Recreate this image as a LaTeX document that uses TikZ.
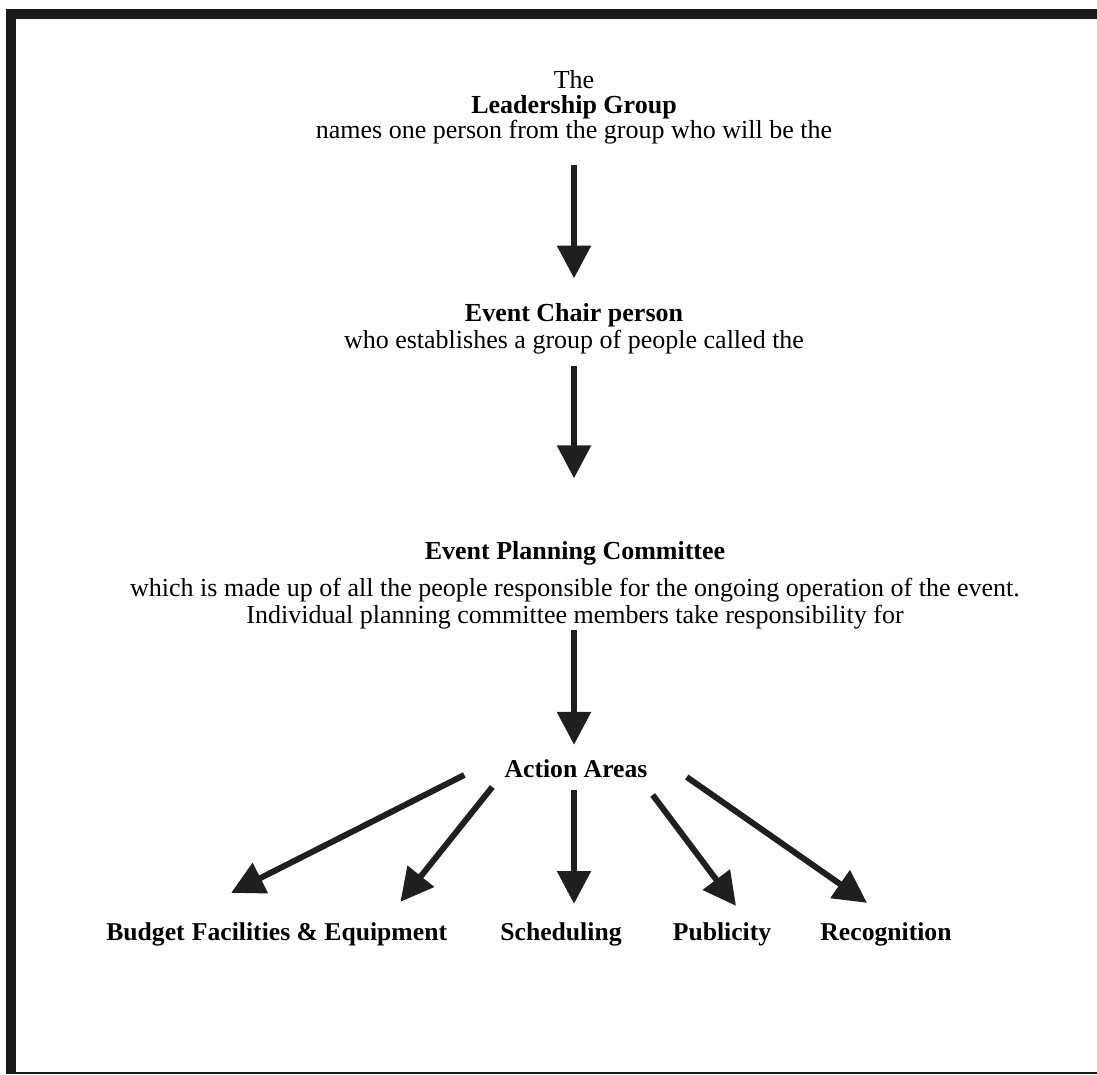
\documentclass[tikz,border=0pt]{standalone}
\usepackage{fontspec}
\setmainfont{Liberation Serif}
\usetikzlibrary{arrows.meta,positioning}

\tikzset{
	blocktext/.style={inner sep=0pt, align=center, font=\fontsize{14.8}{15.3}\selectfont},
	areatext/.style={inner sep=0pt, font=\fontsize{14.6}{15}\selectfont\bfseries},
	flow/.style={line width=3.4pt, draw=black!88, -{Triangle[width=18.7pt,length=18.7pt]}}
}

\begin{document}
\begin{tikzpicture}[x=0.02cm, y=-0.02cm]
			%%%%% START %%%%%
			\useasboundingbox (0, 0) rectangle (1097, 1074);
			
			\fill[black!90] (6, 9) rectangle (1097, 19);
			\fill[black!90] (6, 9) rectangle (16, 1074);
			\fill[black!90] (6, 1072) rectangle (1097, 1074);
			
			\node[blocktext, anchor=north] (lead) at (574, 70) {The\\[-1pt] \textbf{Leadership Group}\\[-0.8pt] names one person from the group who will be the};
			\node[blocktext, anchor=north] (chair) at (574, 303) {\textbf{Event Chair person}\\ who establishes a group of people called the};
			\node[blocktext, anchor=north] (plan) at (575, 541) {\textbf{Event Planning Committee}\\[5.7pt] which is made up of all the people responsible for the ongoing operation of the event.\\ Individual planning committee members take responsibility for};
			
			\node[areatext, anchor=base] (action) at (576, 777) {Action Areas};
			
			\node[areatext, anchor=base west] (budget) at (106, 940) {Budget};
			\node[areatext, anchor=base west, xshift=3.7pt] (facil) at (budget.base east) {Facilities \& Equipment};
			\node[areatext, anchor=base] (sched) at (561, 940) {Scheduling};
			\node[areatext, anchor=base] (publ) at (722, 940) {Publicity};
			\node[areatext, anchor=base] (recog) at (886, 940) {Recognition};
			
			\draw[flow, shorten <=11.5pt, shorten >=14pt] (lead.south) -- (lead.south |- chair.north);
			\draw[flow, shorten <=6.8pt, shorten >=35.7pt] (chair.south) -- (chair.south |- plan.north);
			\draw[flow, shorten <=0.6pt, shorten >=8pt] (plan.south -| chair.south) -- (chair.south |- action.north);
			
			\draw[flow] ([shift={(-40, -2)}]action.base west) -- ([shift={(46, -29)}]budget.north east);
			\draw[flow] ([shift={(-12, 10)}]action.base west) -- ([shift={(-47, -20)}]facil.north east);
			\draw[flow] ([shift={(-2, 13)}]action.base) -- ([shift={(13, -18)}]sched.north);
			\draw[flow] ([shift={(5, 18)}]action.base east) -- ([shift={(14, -16)}]publ.north);
			\draw[flow] ([shift={(39, 0)}]action.base east) -- ([shift={(-19, -19)}]recog.north);
			%%%%% END %%%%%
\end{tikzpicture}
\end{document}
